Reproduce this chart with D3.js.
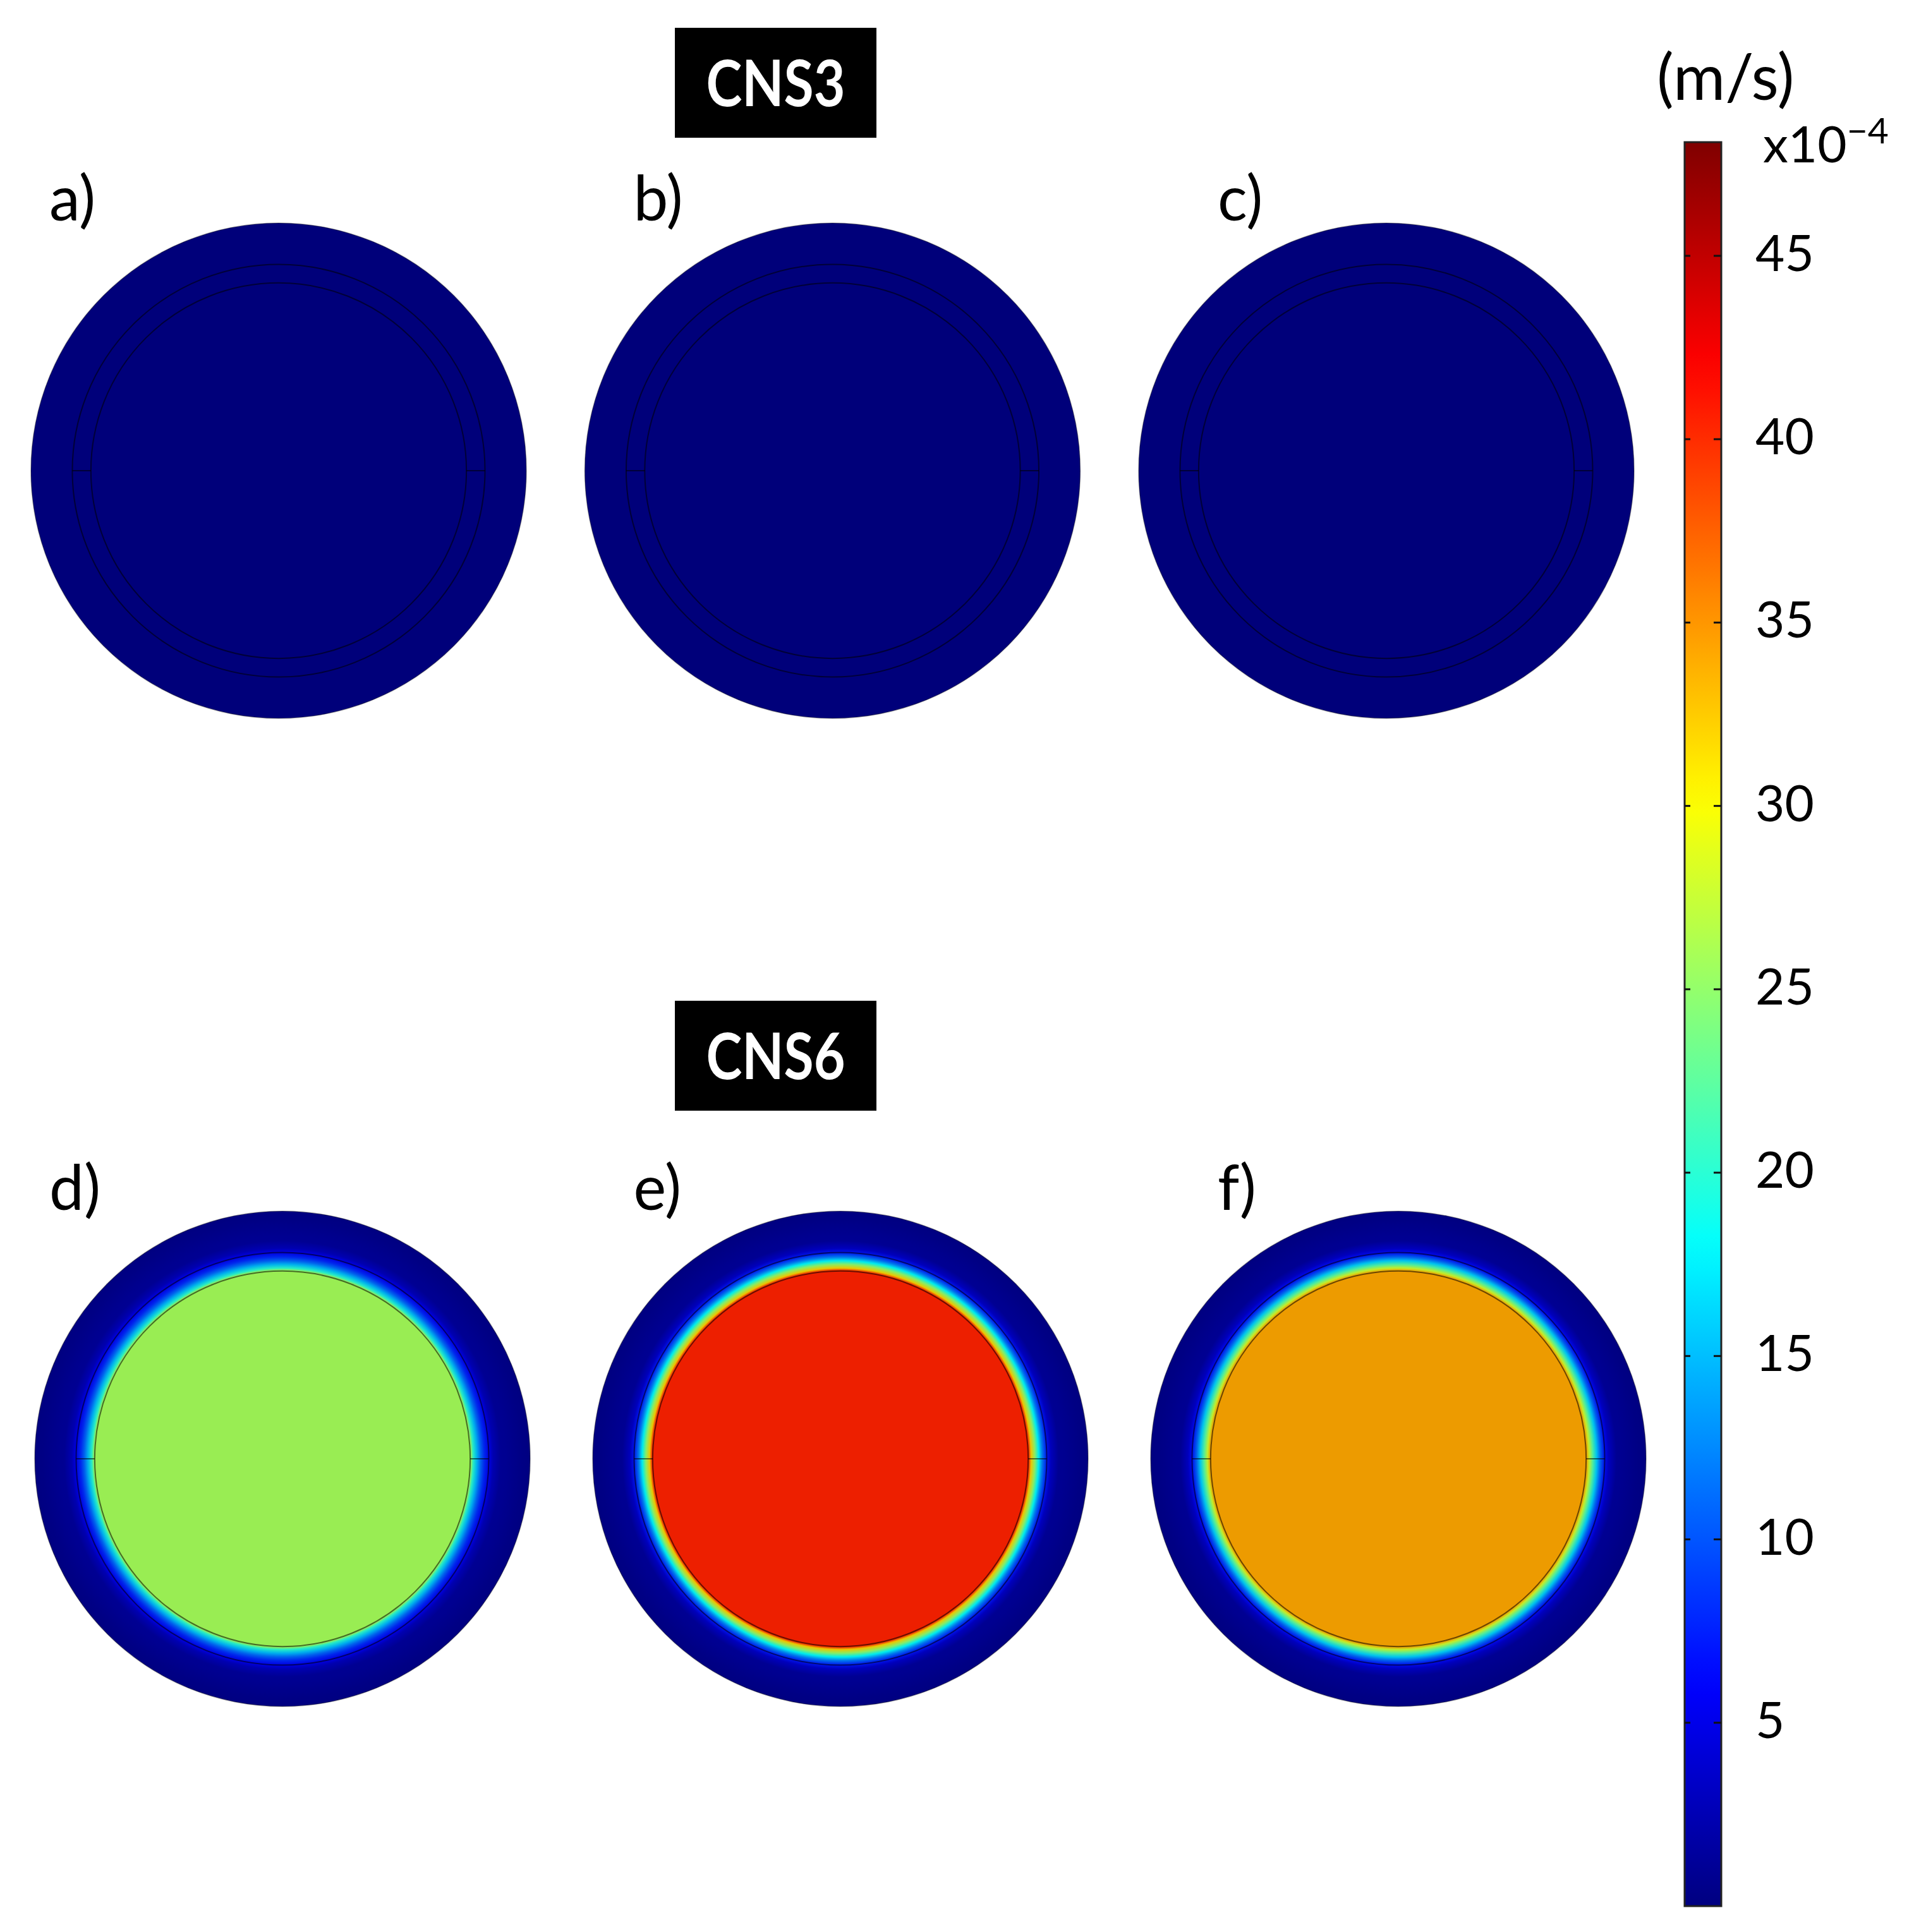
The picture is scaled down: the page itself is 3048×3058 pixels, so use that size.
<!DOCTYPE html>
<html>
<head>
<meta charset="utf-8">
<script src="https://cdn.jsdelivr.net/npm/d3@7"></script>
<style>
  html, body { margin: 0; padding: 0; background: #fff; }
  svg { display: block; }
</style>
</head>
<body>
<script>
// ---------------- DATA ----------------
const panelLabels = ["a)", "b)", "c)", "d)", "e)", "f)"];
const panelGroups = ["CNS3", "CNS3", "CNS3", "CNS6", "CNS6", "CNS6"];
const groupTitles = ["CNS3", "CNS6"];
// radial positions (fraction of outer radius) at which the velocity was read
const radialPositions = [0, 0.760, 0.770, 0.785, 0.800, 0.815, 0.833, 0.850, 0.880, 1.0];
// velocity magnitude (x10^-4 m/s) along the radius, per panel
const profileA = [0.2, 0.2, 0.2, 0.2, 0.2, 0.2, 0.2, 0.2, 0.2, 0.2];
const profileB = [0.2, 0.2, 0.2, 0.2, 0.2, 0.2, 0.2, 0.2, 0.2, 0.2];
const profileC = [0.2, 0.2, 0.2, 0.2, 0.2, 0.2, 0.2, 0.2, 0.2, 0.2];
const profileD = [25.8, 25.8, 20, 15, 11, 8, 5.5, 3, 1.5, 0.5];
const profileE = [40.5, 40.5, 32, 25, 18, 12, 7, 3.5, 1.5, 0.5];
const profileF = [34.2, 34.2, 28, 22, 16, 11, 6.5, 3.5, 1.5, 0.5];
// domain boundaries (fraction of outer radius) drawn as thin lines
const boundaryRadii = [0.833, 0.758];
// colour bar
const colorDomain = [0, 48.1];
const tickValues = [5, 10, 15, 20, 25, 30, 35, 40, 45];
const unitLabel = "(m/s)";
const exponentBase = "x10";
const exponentPower = "\u22124";

const profiles = [profileA, profileB, profileC, profileD, profileE, profileF];

// ---------------- LAYOUT ----------------
const W = 3048, H = 3058;
const R = 392;
const FONT = "Lato, 'Open Sans', 'DejaVu Sans', sans-serif";

const svg = d3.select("body").append("svg")
  .attr("width", W).attr("height", H)
  .attr("viewBox", `0 0 ${W} ${H}`);
svg.append("rect").attr("width", W).attr("height", H).attr("fill", "#fff");
const defs = svg.append("defs");

// jet-like colormap
function jet(t) {
  const c = v => Math.max(0, Math.min(1, v));
  const r = c(1.5 - Math.abs(4 * t - 3));
  const g = c(1.5 - Math.abs(4 * t - 2));
  const b = c(1.5 - Math.abs(4 * t - 1));
  return d3.rgb(r * 255, g * 255, b * 255).formatHex();
}
const color = d3.scaleSequential(jet).domain(colorDomain);

const rowY = d3.scalePoint().domain(groupTitles).range([745, 2309]);
const colXTop = d3.scalePoint().domain([0, 1, 2]).range([441, 2194]);
const colXBot = d3.scalePoint().domain([0, 1, 2]).range([447, 2213]);
const labelX = d3.scalePoint().domain([0, 1, 2]).range([78, 1927]);
const labelBaseline = { CNS3: 349, CNS6: 1915 };
const radius = d3.scaleLinear().domain([0, 1]).range([0, R]);

const panels = panelLabels.map((lab, i) => {
  const group = panelGroups[i];
  const col = i % 3;
  return {
    lab, group, col, i,
    cx: group === "CNS3" ? colXTop(col) : colXBot(col),
    cy: rowY(group),
    profile: profiles[i]
  };
});

// group titles (black boxes)
const titleBox = { w: 319, h: 174, x: 1068, top: { CNS3: 44, CNS6: 1584 } };
groupTitles.forEach(g => {
  const y0 = titleBox.top[g];
  svg.append("rect")
    .attr("x", titleBox.x).attr("y", y0)
    .attr("width", titleBox.w).attr("height", titleBox.h)
    .attr("fill", "#000");
  svg.append("text")
    .attr("x", titleBox.x + titleBox.w / 2)
    .attr("y", y0 + 124)
    .attr("text-anchor", "middle")
    .attr("fill", "#fff")
    .attr("font-family", FONT)
    .attr("font-weight", 700)
    .attr("font-size", 101)
    .attr("textLength", 220)
    .attr("lengthAdjust", "spacingAndGlyphs")
    .text(g);
});

// panels
panels.forEach(p => {
  const gid = "grad" + p.i;
  const grad = defs.append("radialGradient")
    .attr("id", gid)
    .attr("gradientUnits", "userSpaceOnUse")
    .attr("cx", 0).attr("cy", 0).attr("fx", 0).attr("fy", 0).attr("r", radius(1));
  radialPositions.forEach((pos, k) => {
    grad.append("stop")
      .attr("offset", pos)
      .attr("stop-color", color(p.profile[k]));
  });

  const g = svg.append("g").attr("transform", `translate(${p.cx},${p.cy})`);
  g.append("circle")
    .attr("r", radius(1))
    .attr("fill", `url(#${gid})`);
  // slight shading of the rendered surface (reference plots are a little darker than the legend)
  g.append("circle")
    .attr("r", radius(1))
    .attr("fill", "#000")
    .attr("fill-opacity", 0.07)
    .attr("stroke", "#000")
    .attr("stroke-opacity", 0.35)
    .attr("stroke-width", 1.5);

  boundaryRadii.forEach(br => {
    g.append("circle")
      .attr("r", radius(br))
      .attr("fill", "none")
      .attr("stroke", "#000")
      .attr("stroke-opacity", 0.55)
      .attr("stroke-width", 2);
  });
  // seams between the two boundaries, left and right
  [-1, 1].forEach(s => {
    g.append("line")
      .attr("x1", s * radius(boundaryRadii[1])).attr("x2", s * radius(boundaryRadii[0]))
      .attr("y1", 0).attr("y2", 0)
      .attr("stroke", "#000").attr("stroke-opacity", 0.55).attr("stroke-width", 2);
  });

  svg.append("text")
    .attr("x", labelX(p.col))
    .attr("y", labelBaseline[p.group])
    .attr("font-family", FONT)
    .attr("font-size", 98)
    .attr("fill", "#000")
    .text(p.lab);
});

// ---------------- COLOR BAR ----------------
const cbX = 2666, cbW = 58;
const cbY = d3.scaleLinear().domain(colorDomain).range([3017, 225]);
const cbGrad = defs.append("linearGradient")
  .attr("id", "cbgrad")
  .attr("x1", 0).attr("y1", 1).attr("x2", 0).attr("y2", 0);
d3.range(0, 1.0001, 0.02).forEach(t => {
  cbGrad.append("stop")
    .attr("offset", t)
    .attr("stop-color", color(colorDomain[0] + t * (colorDomain[1] - colorDomain[0])));
});
svg.append("rect")
  .attr("x", cbX).attr("y", cbY(colorDomain[1]))
  .attr("width", cbW).attr("height", cbY(colorDomain[0]) - cbY(colorDomain[1]))
  .attr("fill", "url(#cbgrad)")
  .attr("stroke", "#222").attr("stroke-width", 3);

const ticks = svg.append("g");
tickValues.forEach(v => {
  const y = cbY(v);
  ticks.append("line").attr("x1", cbX).attr("x2", cbX + 9).attr("y1", y).attr("y2", y)
    .attr("stroke", "#111").attr("stroke-width", 3);
  ticks.append("line").attr("x1", cbX + cbW - 12).attr("x2", cbX + cbW).attr("y1", y).attr("y2", y)
    .attr("stroke", "#111").attr("stroke-width", 3);
  ticks.append("text")
    .attr("x", 2778).attr("y", y + 24)
    .attr("font-family", FONT).attr("font-size", 80).attr("fill", "#000")
    .text(v);
});

svg.append("text")
  .attr("x", 2622).attr("y", 158)
  .attr("font-family", FONT).attr("font-size", 100).attr("fill", "#000")
  .text(unitLabel);
const ex = svg.append("text")
  .attr("x", 2790).attr("y", 257)
  .attr("font-family", FONT).attr("font-size", 80).attr("fill", "#000");
ex.append("tspan").text(exponentBase);
ex.append("tspan").attr("dy", -30).attr("font-size", 57).text(exponentPower);
</script>
</body>
</html>
